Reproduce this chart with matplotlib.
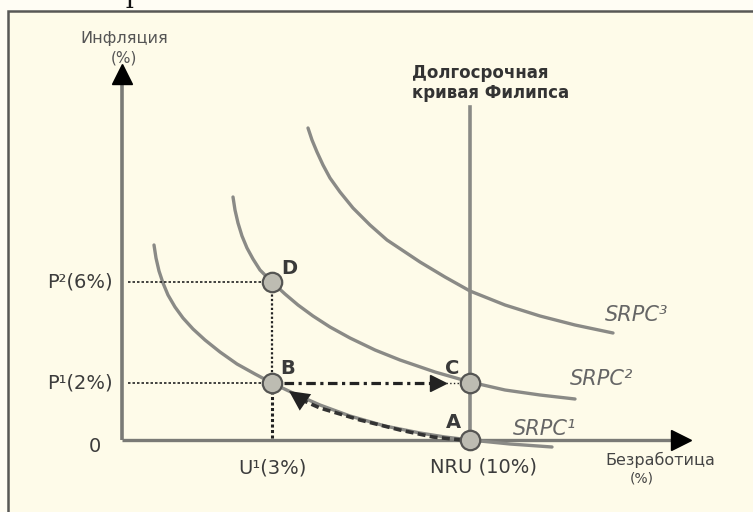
import matplotlib
matplotlib.use("Agg")
import matplotlib.pyplot as plt
from matplotlib.patches import Rectangle

# schematic coordinates: origin of the diagram at (0, 0), units ~ pixels
srpc1_x = [32, 34, 37, 41, 46, 53, 61, 71, 83, 98, 115, 133, 150, 173, 198,
           228, 263, 298, 323, 348, 388, 430]
srpc1_y = [195, 182, 169, 157, 145, 133, 122, 111, 100, 88, 76, 66, 57, 46, 35,
           24, 14, 7, 3, 0, -4, -7]
srpc2_x = [111, 113, 116, 120, 125, 131, 138, 150, 163, 176, 191, 208, 228, 253,
           278, 313, 348, 383, 418, 453]
srpc2_y = [243, 230, 217, 204, 192, 181, 170, 158, 146, 135, 124, 113, 102, 90,
           80, 68, 58, 50, 45, 41]
srpc3_x = [186, 190, 195, 201, 208, 218, 231, 248, 265, 298, 323, 348, 383, 418,
           453, 491]
srpc3_y = [312, 300, 288, 275, 262, 248, 232, 215, 200, 178, 163, 149, 135, 124,
           115, 107]

# path of the move A -> B (dashed arrow)
move_ab_x = [340, 311, 278, 238, 198, 180]
move_ab_y = [0, 3, 10, 20, 32, 40]

u1 = 150       # U1 (3%)
nru = 348      # NRU (10%)
p1 = 57        # P1 (2%)
p2 = 158       # P2 (6%)
lrpc_top = 333

points = {"D": (u1, p2), "B": (u1, p1), "C": (nru, p1), "A": (nru, 0)}
point_labels = {"D": (167, 171), "B": (166, 72), "C": (330, 71), "A": (331, 18)}

curve_col = "#8a8a86"
axis_col = "#7a7a76"
text_col = "#3c3c3c"

fig = plt.figure(figsize=(7.53, 5.12), dpi=100, facecolor="#fffdf4")
ax = fig.add_axes([0, 0, 1, 1])
ax.set_xlim(-122, 631)
ax.set_ylim(-72, 440)
ax.axis("off")

# cream panel with dark frame
ax.add_patch(Rectangle((-114, -90), 900, 519, facecolor="#fefbe9",
                       edgecolor="#585856", lw=1.8, zorder=0))
ax.text(8, 432, "Т", family="DejaVu Serif", fontsize=17, color="#111",
        ha="center", va="baseline")

# axes with arrow heads
ax.plot([0, 0], [0, 362], color=axis_col, lw=2.6, solid_capstyle="butt", zorder=2)
ax.plot([0], [366], marker="^", color="black", markersize=15, zorder=3)
ax.plot([0, 556], [0, 0], color=axis_col, lw=2.4, solid_capstyle="butt", zorder=2)
ax.plot([559], [0], marker=">", color="black", markersize=14, zorder=3)

# long-run Phillips curve
ax.plot([nru, nru], [0, lrpc_top], color=curve_col, lw=2.6, zorder=2)

# short-run curves
for xs, ys in [(srpc1_x, srpc1_y), (srpc2_x, srpc2_y), (srpc3_x, srpc3_y)]:
    ax.plot(xs, ys, color=curve_col, lw=2.4, solid_capstyle="round",
            solid_joinstyle="round", zorder=2)

# guide lines
ax.plot([6, u1 - 8], [p2, p2], color="#222", lw=1.2, ls=(0, (1.5, 1.2)), zorder=2)
ax.plot([6, u1 - 8], [p1, p1], color="#222", lw=1.2, ls=(0, (1.5, 1.2)), zorder=2)
ax.plot([u1, u1], [p2 - 8, p1 + 8], color="#222", lw=1.6, ls=(0, (1, 1)), zorder=2)
ax.plot([u1, u1], [p1 - 8, 0], color="#222", lw=2.2, ls=(0, (1, 0.8)), zorder=2)

# B -> C dashed arrow
ax.plot([u1 + 12, 312], [p1, p1], color="#222", lw=2.3,
        dashes=[3, 1.4, 1, 1.4], zorder=3)
ax.plot([316], [p1], marker=">", color="#222", markersize=12, zorder=3)
ax.plot([324, nru - 8], [p1, p1], color="#222", lw=1.0, ls=":", zorder=3)

# A -> B dashed arrow
ax.plot(move_ab_x, move_ab_y, color="#333", lw=2.6, dashes=[2.2, 1.2], zorder=3)
ax.annotate("", xy=(u1 + 17, p1 - 8), xytext=(move_ab_x[-1], move_ab_y[-1]),
            arrowprops=dict(arrowstyle="-|>,head_length=0.9,head_width=0.45",
                            color="#222", lw=0, shrinkA=0, shrinkB=0,
                            mutation_scale=16), zorder=4)

# points
for name, (px, py) in points.items():
    ax.plot([px], [py], marker="o", markersize=14, markerfacecolor="#bdbcb2",
            markeredgecolor="#555553", markeredgewidth=1.6, zorder=5)
    lx, ly = point_labels[name]
    ax.text(lx, ly, name, fontsize=14, fontweight="bold", color="#3a3a3a",
            ha="center", va="center", zorder=6)

# axis texts
ax.text(2, 402, "Инфляция", fontsize=11.5, color="#555", ha="center", va="center")
ax.text(2, 382, "(%)", fontsize=11, color="#555", ha="center", va="center")
ax.text(290, 357, "Долгосрочная\nкривая Филипса", fontsize=12,
        fontweight="bold", color="#333", ha="left", va="center", linespacing=1.15)
ax.text(483, -20, "Безработица", fontsize=11.5, color="#444", ha="left", va="center")
ax.text(520, -38, "(%)", fontsize=10, color="#444", ha="center", va="center")

ax.text(-9, p2, "P²(6%)", fontsize=14, color=text_col, ha="right", va="center")
ax.text(-9, p1, "P¹(2%)", fontsize=14, color=text_col, ha="right", va="center")
ax.text(-27, -6, "0", fontsize=14, color=text_col, ha="center", va="center")
ax.text(u1, -28, "U¹(3%)", fontsize=14, color=text_col, ha="center", va="center")
ax.text(362, -27, "NRU (10%)", fontsize=14, color=text_col, ha="center", va="center")

ax.text(483, 125, "SRPC³", fontsize=15, style="italic", color="#666", ha="left", va="center")
ax.text(448, 61, "SRPC²", fontsize=15, style="italic", color="#666", ha="left", va="center")
ax.text(391, 11, "SRPC¹", fontsize=15, style="italic", color="#666", ha="left", va="center")

fig.savefig("out.png", dpi=100, facecolor=fig.get_facecolor())
